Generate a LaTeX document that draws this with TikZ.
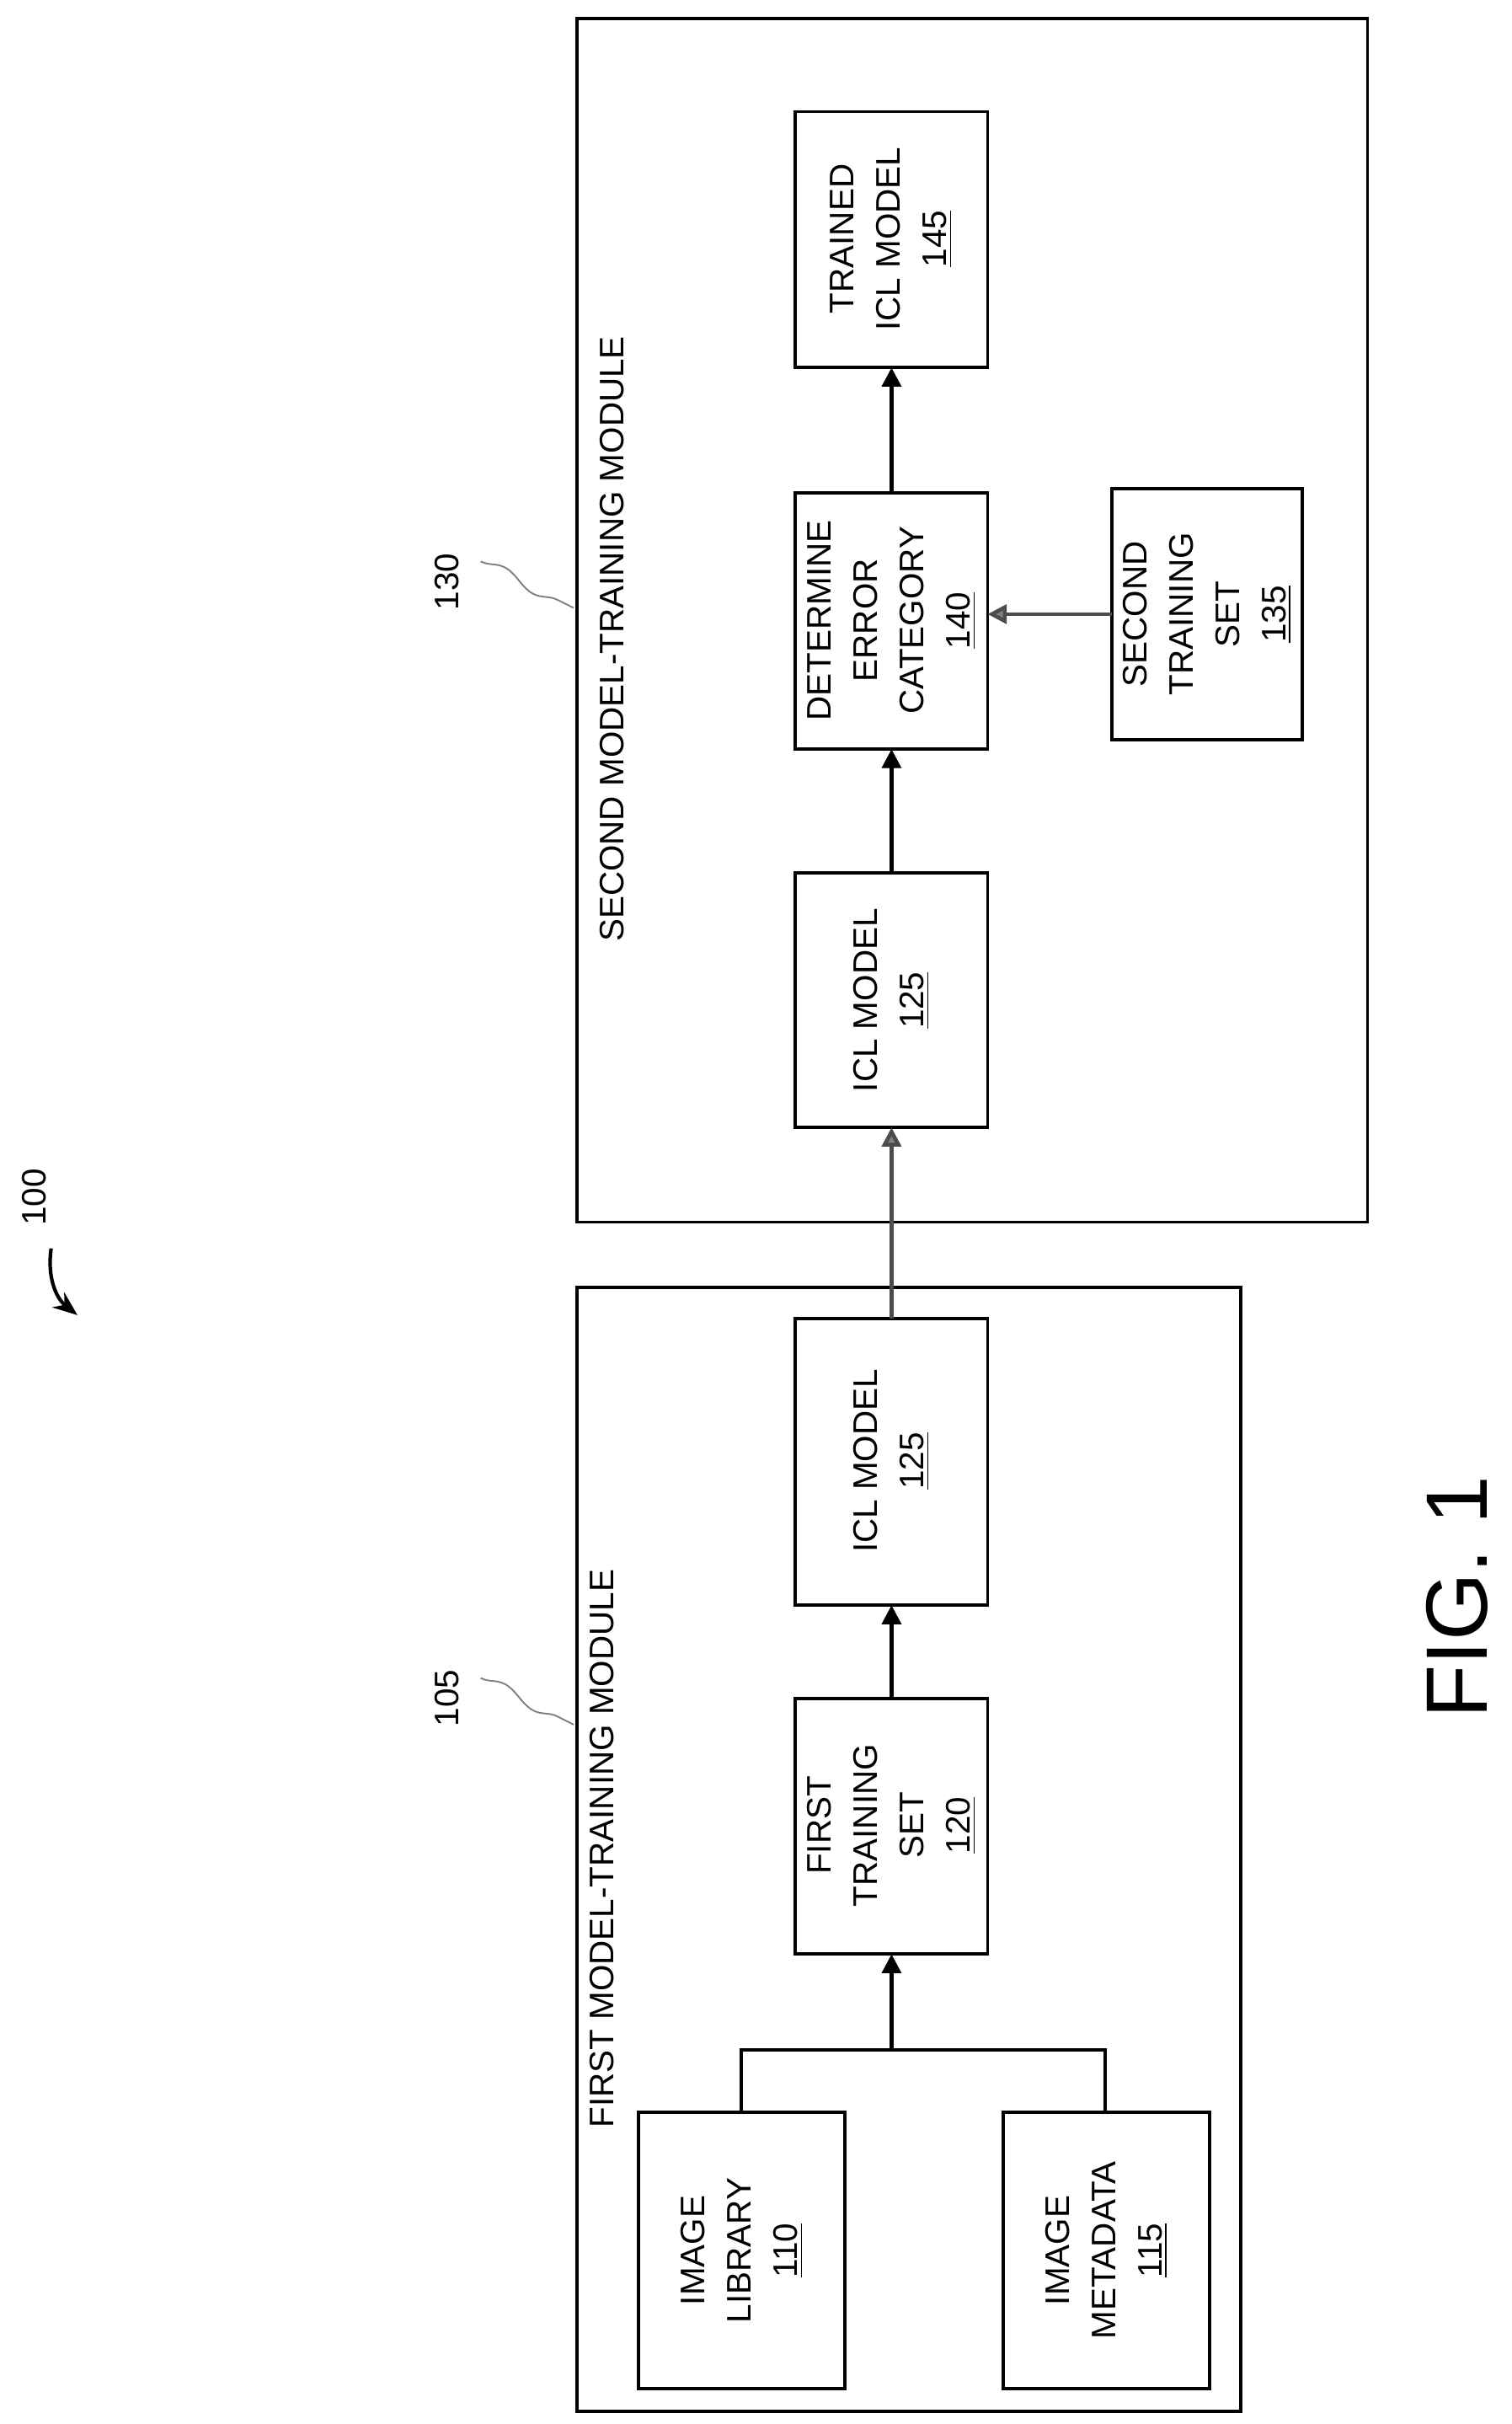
\documentclass[tikz,border=0pt]{standalone}
\usepackage{fontspec}
\setmainfont{Liberation Sans}
\usetikzlibrary{arrows.meta,decorations.pathmorphing}
\begin{document}
\begin{tikzpicture}[x=0.02cm,y=-0.02cm,
  box/.style={draw,line width=1.2pt,inner sep=0pt},
  lbl/.style={rotate=90,align=center,font=\fontsize{12.5}{17}\selectfont},
  arr/.style={-{Triangle[length=7pt,width=7pt]},line width=1.4pt},
  garr/.style={arr,draw=gray!70!black,{-{Triangle[length=7pt,width=7pt,fill=gray]}}},
  wav/.style={draw=gray,line width=0.6pt,decorate,decoration={snake,amplitude=2pt,segment length=28pt}}]
\useasboundingbox (0,0) rectangle (975,1563);
% outer modules
\draw[box] (372,830) rectangle (800,1555);
\draw[box] (372,12) rectangle (882,788);
\node[lbl] at (388,1192) {FIRST MODEL-TRAINING MODULE};
\node[lbl] at (395,412) {SECOND MODEL-TRAINING MODULE};
% boxes
\draw[box] (412,1362) rectangle (545,1540) coordinate (lib);
\node[lbl] (libt) at (478.5,1451) {IMAGE\\LIBRARY\\\underline{110}};
\draw[box] (647,1362) rectangle (780,1540);
\node[lbl] (metat) at (713.5,1451) {IMAGE\\METADATA\\\underline{115}};
\draw[box] (513,1095) rectangle (637,1260);
\node[lbl] at (575,1177) {FIRST\\TRAINING\\SET\\\underline{120}};
\draw[box] (513,850) rectangle (637,1035);
\node[lbl] at (575,942) {ICL MODEL\\\underline{125}};
\draw[box] (513,563) rectangle (637,727);
\node[lbl] at (575,645) {ICL MODEL\\\underline{125}};
\draw[box] (513,318) rectangle (637,483);
\node[lbl] at (575,400) {DETERMINE\\ERROR\\CATEGORY\\\underline{140}};
\draw[box] (717,315) rectangle (840,477);
\node[lbl] at (778.5,396) {SECOND\\TRAINING\\SET\\\underline{135}};
\draw[box] (513,72) rectangle (637,237);
\node[lbl] at (575,154) {TRAINED\\ICL MODEL\\\underline{145}};
% connectors
\coordinate (b1) at (478,1362); \coordinate (b2) at (713,1362);
\draw[line width=1.2pt] (b1) -- (478,1322) -- (713,1322) -- (b2);
\draw[arr] (575,1322) -- (575,1260);
\draw[arr] (575,1095) -- (575,1035);
\draw[arr,draw=gray!60!black,-{Triangle[length=7pt,width=7pt,fill=gray]}] (575,850) -- (575,727);
\draw[arr] (575,563) -- (575,483);
\draw[arr,draw=gray!60!black,-{Triangle[length=7pt,width=7pt,fill=gray]}] (717,396) -- (637,396);
\draw[arr] (575,318) -- (575,237);
% refs
\node[lbl] at (288,1095) {105};
\draw[wav] (310,1082) -- (370,1112);
\node[lbl] at (288,375) {130};
\draw[wav] (310,362) -- (370,392);
\node[lbl] at (22,772) {100};
\draw[-{Stealth[length=9pt,width=7pt]},line width=1.3pt] (33,805) to[bend right=30] (50,848);
\node[rotate=90,font=\fontsize{32}{36}\selectfont] at (940,1030) {FIG. 1};
\end{tikzpicture}
\end{document}
